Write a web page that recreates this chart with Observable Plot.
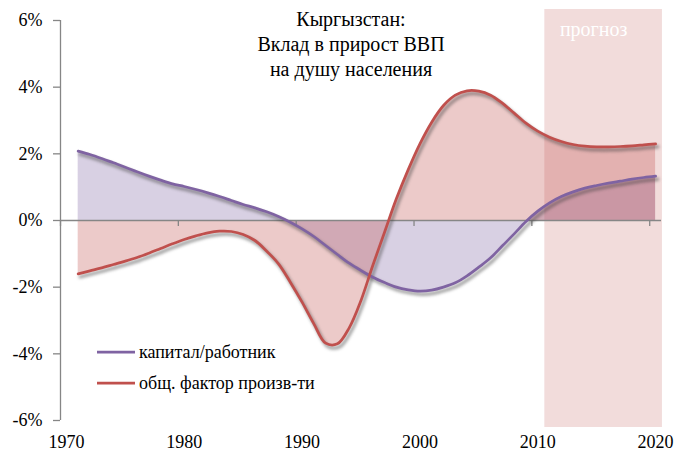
<!DOCTYPE html>
<html>
<head>
<meta charset="utf-8">
<script src="https://cdn.jsdelivr.net/npm/d3@7"></script>
<script src="https://cdn.jsdelivr.net/npm/@observablehq/plot@0.6"></script>
<style>
  body { margin: 0; background: #fff; }
  #chart { position: relative; width: 675px; height: 452px; }
</style>
</head>
<body>
<div id="chart"></div>
<script>
// ---- data ----
const years = [1971,1972,1973,1974,1975,1976,1977,1978,1979,1980,
               1981,1982,1983,1984,1985,1986,1987,1988,1989,1990,
               1991,1992,1993,1994,1995,1996,1997,1998,1999,2000,
               2001,2002,2003,2004,2005,2006,2007,2008,2009,2010,
               2011,2012,2013,2014,2015,2016,2017,2018,2019,2020];
const capital = [2.08,1.98,1.86,1.73,1.60,1.46,1.33,1.21,1.10,1.02,
                 0.93,0.83,0.72,0.60,0.48,0.38,0.26,0.12,-0.05,-0.25,
                 -0.48,-0.75,-1.02,-1.28,-1.50,-1.70,-1.86,-2.00,-2.08,-2.12,
                 -2.09,-2.00,-1.87,-1.66,-1.40,-1.12,-0.76,-0.40,-0.03,0.28,
                 0.53,0.72,0.86,0.97,1.05,1.12,1.18,1.24,1.29,1.33];
const tfp = [-1.60,-1.51,-1.42,-1.32,-1.22,-1.11,-0.98,-0.84,-0.70,-0.57,
             -0.46,-0.37,-0.32,-0.33,-0.42,-0.60,-0.92,-1.30,-1.85,-2.45,
             -3.10,-3.68,-3.70,-3.22,-2.40,-1.35,-0.35,0.65,1.52,2.30,
             2.95,3.45,3.76,3.89,3.88,3.76,3.52,3.22,2.92,2.68,
             2.50,2.37,2.28,2.23,2.21,2.21,2.22,2.24,2.27,2.30];
const seriesNames = ["капитал/работник", "общ. фактор произв-ти"];
const titleLines = ["Кыргызстан:", "Вклад в прирост ВВП", "на душу населения"];
const yTicks = [-6, -4, -2, 0, 2, 4, 6];
const xLabels = [1970, 1980, 1990, 2000, 2010, 2020];
const xTickMarks = [1969.5, 1979.5, 1989.5, 1999.5, 2009.5, 2019.5];
const forecastSpan = [2010.6, 2020.58];
const forecastY = [-6.21, 6.33];
const forecastLabel = "прогноз";

// ---- config ----
const W = 675, H = 452;
const M = {top: 20, right: 14, bottom: 32, left: 60};
const xDomain = [1969.5, 2020.5];
const yDomain = [-6, 6];
const colors = ["#7f63a2", "#c0504d"];
const axisColor = "#868686";
const font = "'Liberation Serif', 'Times New Roman', serif";
const pxPerUnit = (H - M.top - M.bottom) / (yDomain[1] - yDomain[0]);
const tickLen = 6 / pxPerUnit;
const shadowColor = "#3a3a3a";

const table = years.map((year, i) => ({year, capital: capital[i], tfp: tfp[i]}));
const forecast = [{x1: forecastSpan[0], x2: forecastSpan[1], y1: forecastY[0], y2: forecastY[1], label: forecastLabel}];

const curve = "catmull-rom";

const plot = Plot.plot({
  width: W, height: H,
  marginTop: M.top, marginRight: M.right, marginBottom: M.bottom, marginLeft: M.left,
  x: {domain: xDomain, axis: null},
  y: {domain: yDomain, axis: null},
  style: {fontFamily: font, background: "#fff", color: "#000", overflow: "visible"},
  marks: [
    Plot.rect(forecast, {x1: "x1", x2: "x2", y1: "y1", y2: "y2", fill: colors[1], fillOpacity: 0.2}),
    Plot.text(forecast, {x: d => (d.x1 + d.x2) / 2, y: () => yDomain[1], text: "label", fill: "white",
      fontSize: 20, lineAnchor: "top", dy: 1, dx: -10}),
    Plot.areaY(table, {x: "year", y: "capital", curve, fill: colors[0], fillOpacity: 0.3}),
    Plot.areaY(table, {x: "year", y: "tfp", curve, fill: colors[1], fillOpacity: 0.3}),
    Plot.ruleY([0], {x1: xDomain[0], x2: xDomain[1], stroke: axisColor, strokeWidth: 1.3}),
    Plot.ruleX(xTickMarks, {x: d => d, y1: 0, y2: -tickLen, stroke: axisColor, strokeWidth: 1.3}),
    Plot.ruleX([xDomain[0]], {y1: yDomain[0], y2: yDomain[1], stroke: axisColor, strokeWidth: 1.3}),
    Plot.axisY(yTicks, {tickFormat: d => d + "%", tickSize: 7, tickPadding: 11, fontSize: 18,
      stroke: axisColor, fill: "#000", strokeWidth: 1.3}),
    Plot.axisX(xLabels, {tickFormat: d => String(d), tickSize: 0, tickPadding: 15, fontSize: 18, fill: "#000"}),
    Plot.line(table, {x: "year", y: "capital", curve, stroke: shadowColor, strokeOpacity: 0.45, strokeWidth: 3.5, dx: 2, dy: 3}),
    Plot.line(table, {x: "year", y: "tfp", curve, stroke: shadowColor, strokeOpacity: 0.45, strokeWidth: 3.5, dx: 2, dy: 3}),
    Plot.line(table, {x: "year", y: "capital", curve, stroke: colors[0], strokeWidth: 2.75}),
    Plot.line(table, {x: "year", y: "tfp", curve, stroke: colors[1], strokeWidth: 2.75}),
    Plot.text([titleLines.join("\n")], {text: d => d, frameAnchor: "top", dx: -10, dy: -12,
      lineAnchor: "top", fontSize: 20, lineHeight: 1.25, fill: "#000"})
  ]
});

document.getElementById("chart").appendChild(plot);

// blur the shadow lines
plot.querySelectorAll(`g[stroke="${shadowColor}"]`).forEach(g => { g.style.filter = "blur(1.6px)"; });

// legend
const svg = d3.select(plot);
const legend = svg.append("g").attr("font-family", font).attr("font-size", 18).attr("text-anchor", "start");
const legendRows = [{y: 352, text: seriesNames[0], color: colors[0]}, {y: 383, text: seriesNames[1], color: colors[1]}];
legendRows.forEach(r => {
  legend.append("line").attr("x1", 97).attr("x2", 135).attr("y1", r.y).attr("y2", r.y)
    .attr("stroke", r.color).attr("stroke-width", 2.75);
  legend.append("text").attr("x", 139).attr("y", r.y + 5.5).attr("fill", "#000")
    .attr("text-anchor", "start").text(r.text);
});
</script>
</body>
</html>
